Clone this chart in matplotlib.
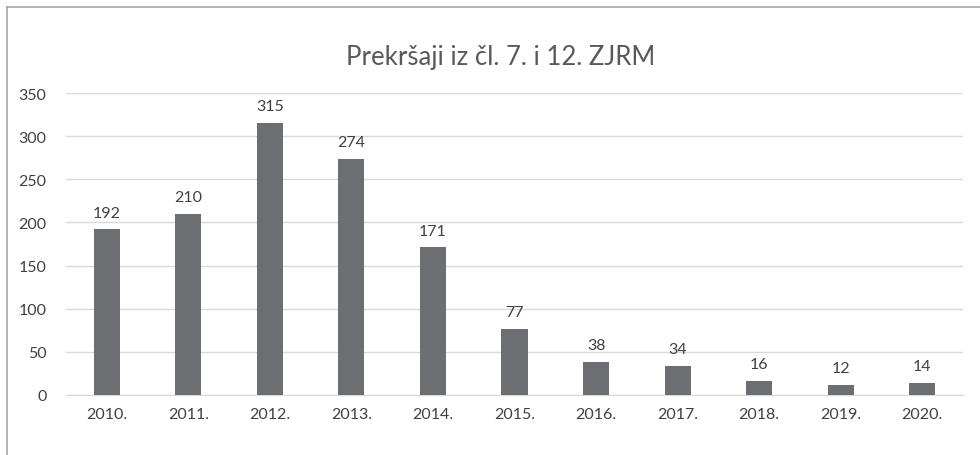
## Bar chart: Prekršaji iz čl. 7. i 12. ZJRM
import matplotlib
matplotlib.use('Agg')
import matplotlib.pyplot as plt
from matplotlib.lines import Line2D

## Data
years = ['2010.', '2011.', '2012.', '2013.', '2014.', '2015.',
         '2016.', '2017.', '2018.', '2019.', '2020.']
counts = [192, 210, 315, 274, 171, 77, 38, 34, 16, 12, 14]
y_ticks = [0, 50, 100, 150, 200, 250, 300, 350]

plt.rcParams['font.family'] = ['Lato', 'DejaVu Sans']

W, H = 980, 456
fig = plt.figure(figsize=(W / 100, H / 100), dpi=100)

# Plot area in pixel terms
left, right, top, bottom = 66, 963, 94, 396
ax = fig.add_axes([left / W, 1 - bottom / H, (right - left) / W, (bottom - top) / H])

x = range(len(years))
bars = ax.bar(x, counts, width=0.32, color='#6D6E71', zorder=3)

ax.set_xlim(-0.5, len(years) - 0.5)
ax.set_ylim(0, 350)
ax.set_yticks(y_ticks)
ax.set_xticks(list(x))
ax.set_xticklabels(years)
ax.yaxis.grid(True, color='#D9D9D9', linewidth=1.0, zorder=0)
for s in ['top', 'right', 'left']:
    ax.spines[s].set_visible(False)
ax.spines['bottom'].set_color('#D9D9D9')
ax.tick_params(axis='both', length=0, labelsize=11.5, colors='#404040')
ax.tick_params(axis='x', pad=9)
ax.tick_params(axis='y', pad=14)

# Value labels
for xi, v in zip(x, counts):
    ax.annotate(str(v), (xi, v), xytext=(0, 7), textcoords='offset points',
                ha='center', va='bottom', fontsize=11.5, color='#404040')

# Title
fig.text(501 / W, 1 - 58 / H, 'Prekršaji iz čl. 7. i 12. ZJRM',
         ha='center', va='center', fontsize=18.5, color='#595959')

# Chart frame (top and left edges visible)
fig.add_artist(Line2D([7 / W, 1], [1 - 8 / H, 1 - 8 / H], color='#A6A6A6', linewidth=1.2))
fig.add_artist(Line2D([7 / W, 7 / W], [0, 1 - 8 / H], color='#A6A6A6', linewidth=1.2))

fig.savefig('out.png', dpi=100)
